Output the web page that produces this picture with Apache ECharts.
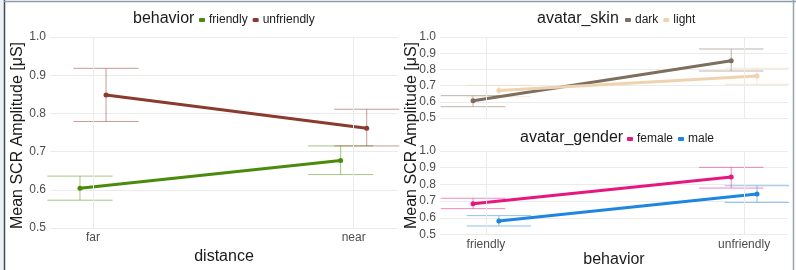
<!DOCTYPE html>
<html>
<head>
<meta charset="utf-8">
<script src="https://cdn.jsdelivr.net/npm/echarts@6/dist/echarts.min.js"></script>
<style>
  html, body { margin: 0; padding: 0; background: #fff; }
  #main { width: 796px; height: 270px; }
</style>
</head>
<body>
<div id="main"></div>
<script>
// left panel: distance x behavior
const distanceCats = ['far', 'near'];
const friendlyMean = [0.604, 0.677];
const friendlyLow = [0.573, 0.640];
const friendlyHigh = [0.636, 0.715];
const unfriendlyMean = [0.848, 0.761];
const unfriendlyLow = [0.779, 0.715];
const unfriendlyHigh = [0.918, 0.811];

// right panels: behavior x avatar
const behaviorCats = ['friendly', 'unfriendly'];
const darkMean = [0.607, 0.854];
const darkLow = [0.570, 0.790];
const darkHigh = [0.638, 0.926];
const lightMean = [0.669, 0.759];
const lightLow = [0.631, 0.708];
const lightHigh = [0.702, 0.807];
const femaleMean = [0.684, 0.845];
const femaleLow = [0.655, 0.778];
const femaleHigh = [0.717, 0.902];
const maleMean = [0.581, 0.743];
const maleLow = [0.551, 0.692];
const maleHigh = [0.613, 0.792];

const yTicks = [0.5, 0.6, 0.7, 0.8, 0.9, 1.0];

const FONT = 'Liberation Sans, Arial, sans-serif';
const DODGE = 0.05;
const HALF = 0.125;

const chart = echarts.init(document.getElementById('main'));

function renderErr(params, api) {
  const x = api.value(0), lo = api.value(1), hi = api.value(2);
  const a = api.coord([x, lo]), b = api.coord([x, hi]);
  const l1 = api.coord([x - HALF, hi]), r1 = api.coord([x + HALF, hi]);
  const l2 = api.coord([x - HALF, lo]), r2 = api.coord([x + HALF, lo]);
  const st = { stroke: api.visual('color'), lineWidth: 1 };
  return {
    type: 'group',
    children: [
      { type: 'line', shape: { x1: a[0], y1: a[1], x2: b[0], y2: b[1] }, style: st },
      { type: 'line', shape: { x1: l1[0], y1: l1[1], x2: r1[0], y2: r1[1] }, style: st },
      { type: 'line', shape: { x1: l2[0], y1: l2[1], x2: r2[0], y2: r2[1] }, style: st }
    ]
  };
}

function group(name, mean, lo, hi, side, color, errColor, idx) {
  return [
    {
      name: name + ' err', type: 'custom', xAxisIndex: idx, yAxisIndex: idx,
      renderItem: renderErr, itemStyle: { color: errColor }, z: 2, silent: true,
      data: mean.map((v, i) => [i + 1 + side * DODGE, lo[i], hi[i]])
    },
    {
      name: name, type: 'line', xAxisIndex: idx, yAxisIndex: idx,
      symbol: 'circle', symbolSize: 5, z: 3,
      itemStyle: { color: color }, lineStyle: { color: color, width: 3 },
      data: mean.map((v, i) => [i + 1 + side * DODGE, v])
    }
  ];
}

function vGrid(idx) {
  return {
    name: 'grid' + idx, type: 'line', xAxisIndex: idx, yAxisIndex: idx, z: 1,
    data: [], silent: true,
    markLine: {
      silent: true, symbol: ['none', 'none'], label: { show: false },
      lineStyle: { color: '#ebebeb', type: 'solid', width: 1 },
      data: [{ xAxis: 1 }, { xAxis: 2 }]
    }
  };
}

function xAxis(idx, cats, min, max, name, showLabels) {
  return {
    type: 'value', gridIndex: idx, min: min, max: max,
    axisLine: { show: false }, axisTick: { show: false }, splitLine: { show: false },
    axisLabel: {
      show: showLabels, customValues: [1, 2], margin: 4,
      color: '#4d4d4d', fontSize: 12, fontFamily: FONT,
      formatter: v => cats[Math.round(v) - 1] || ''
    },
    name: name, nameLocation: 'middle', nameGap: 15,
    nameTextStyle: { fontSize: 16, color: '#1a1a1a', fontFamily: FONT }
  };
}

function yAxis(idx) {
  return {
    type: 'value', gridIndex: idx, min: 0.5, max: 1.0, interval: 0.1,
    axisLine: { show: false }, axisTick: { show: false },
    splitLine: { lineStyle: { color: '#ebebeb', width: 1 } },
    axisLabel: {
      margin: 4, color: '#4d4d4d', fontSize: 12, fontFamily: FONT,
      formatter: v => yTicks.find(t => Math.abs(t - v) < 1e-6).toFixed(1)
    }
  };
}

function legend(left, top, names) {
  return {
    left: left, top: top, padding: 0, itemGap: 5, itemWidth: 6, itemHeight: 4,
    icon: 'roundRect', data: names, selectedMode: false,
    textStyle: { fontSize: 12, color: '#1a1a1a', fontFamily: FONT, padding: [0, 0, 0, -1] }
  };
}

function legendTitle(text, left, top) {
  return {
    text: text, left: left, top: top, padding: 0,
    textStyle: { fontSize: 16, fontWeight: 'normal', color: '#1a1a1a', fontFamily: FONT }
  };
}

const yTitle = 'Mean SCR Amplitude [μS]';

chart.setOption({
  animation: false,
  backgroundColor: '#ffffff',
  grid: [
    { left: 50, width: 348, top: 37, height: 197 },
    { left: 440, width: 348, top: 37, height: 81 },
    { left: 440, width: 348, top: 151, height: 83.5 }
  ],
  xAxis: [
    xAxis(0, distanceCats, 0.835, 2.17, 'distance', true),
    xAxis(1, behaviorCats, 0.822, 2.17, '', false),
    xAxis(2, behaviorCats, 0.822, 2.17, 'behavior', true)
  ],
  yAxis: [yAxis(0), yAxis(1), yAxis(2)],
  title: [
    legendTitle('behavior', 133, 11),
    legendTitle('avatar_skin', 537, 11),
    legendTitle('avatar_gender', 520, 130)
  ],
  legend: [
    legend(199, 14, ['friendly', 'unfriendly']),
    legend(625, 14, ['dark', 'light']),
    legend(627, 133, ['female', 'male'])
  ],
  graphic: [
    { type: 'rect', shape: { x: 0, y: 0, width: 4, height: 270 }, style: { fill: '#eef1f4' } },
    { type: 'line', shape: { x1: 4.5, y1: 0, x2: 4.5, y2: 270 }, style: { stroke: '#3e4c5c', lineWidth: 1.5 } },
    { type: 'line', shape: { x1: 4, y1: 1.5, x2: 796, y2: 1.5 }, style: { stroke: '#8d9cab', lineWidth: 1.5 } },
    { type: 'line', shape: { x1: 793.5, y1: 0, x2: 793.5, y2: 270 }, style: { stroke: '#9aa5b0', lineWidth: 1.5 } },
    {
      type: 'text', x: 18, y: 135.5, rotation: Math.PI / 2,
      style: { text: yTitle, font: '16px ' + FONT, fill: '#1a1a1a', textAlign: 'center', textVerticalAlign: 'middle' }
    },
    {
      type: 'text', x: 412, y: 135.5, rotation: Math.PI / 2,
      style: { text: yTitle, font: '16px ' + FONT, fill: '#1a1a1a', textAlign: 'center', textVerticalAlign: 'middle' }
    }
  ],
  series: [
    vGrid(0), vGrid(1), vGrid(2),
    ...group('friendly', friendlyMean, friendlyLow, friendlyHigh, -1, '#4b8b0b', 'rgba(75,139,11,0.5)', 0),
    ...group('unfriendly', unfriendlyMean, unfriendlyLow, unfriendlyHigh, 1, '#8b3a2f', 'rgba(139,58,47,0.5)', 0),
    ...group('dark', darkMean, darkLow, darkHigh, -1, '#7d6e60', 'rgba(125,110,96,0.5)', 1),
    ...group('light', lightMean, lightLow, lightHigh, 1, '#efd3b0', 'rgba(239,211,176,0.55)', 1),
    ...group('female', femaleMean, femaleLow, femaleHigh, -1, '#e6177f', 'rgba(230,23,127,0.5)', 2),
    ...group('male', maleMean, maleLow, maleHigh, 1, '#1f86e0', 'rgba(31,134,224,0.5)', 2)
  ]
});
</script>
</body>
</html>
